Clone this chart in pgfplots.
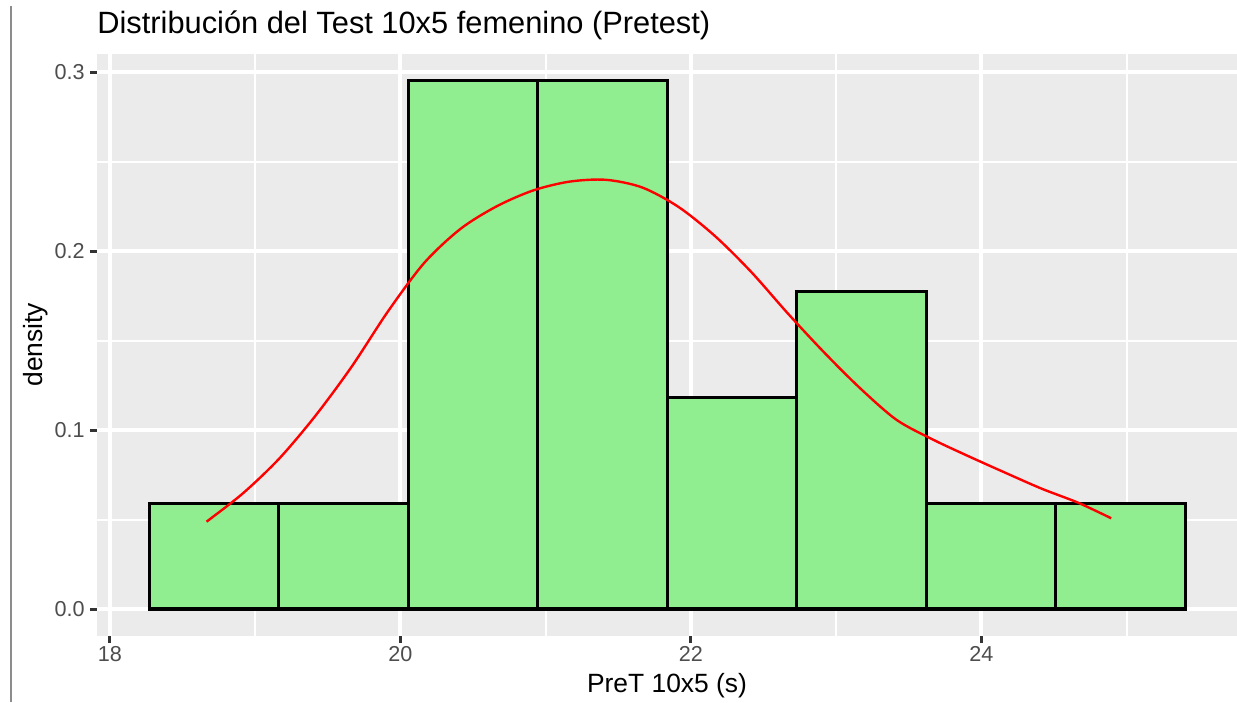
\documentclass[border=0pt]{standalone}
\usepackage{pgfplots}
\pgfplotsset{compat=1.18}
\usepackage{fontspec}
\setmainfont{Liberation Sans}
\definecolor{panelbg}{HTML}{EBEBEB}
\definecolor{barfill}{HTML}{90EE90}
\definecolor{tickcol}{HTML}{333333}
\definecolor{labcol}{HTML}{4D4D4D}
\definecolor{framecol}{HTML}{8C8C8C}

\begin{document}
\begin{tikzpicture}
\begin{axis}[
  scale only axis, width=570pt, height=290.75pt,
  xmin=17.912, xmax=25.760, ymin=-0.0148, ymax=0.3101,
  axis background/.style={fill=panelbg},
  axis x line*=bottom, axis y line*=left,
  axis line style={draw=none},
  xtick={18,20,22,24}, xticklabels={18,20,22,24},
  ytick={0,0.1,0.2,0.3}, yticklabels={0.0,0.1,0.2,0.3},
  minor xtick={19,21,23,25}, minor ytick={0.05,0.15,0.25},
  grid=both,
  major grid style={white, line width=2pt},
  minor grid style={white, line width=1pt},
  tick align=outside,
  major tick length=3.5pt, minor tick length=0pt,
  tick style={tickcol, line width=1.5pt},
  ticklabel style={font=\fontsize{10.8}{12}\selectfont, text=labcol},
  xticklabel style={anchor=north, inner sep=0pt, yshift=-1.75pt},
  yticklabel style={anchor=east, inner sep=0pt, xshift=-2.5pt},
  title={Distribución del Test 10x5 femenino (Pretest)},
  title style={at={(axis description cs:0,1)}, anchor=base west, inner sep=0pt, yshift=4pt, font=\fontsize{15.4}{18}\selectfont},
  xlabel={PreT 10x5 (s)},
  xlabel style={at={(axis description cs:0.5,0)}, anchor=base, inner sep=0pt, yshift=-28.25pt, font=\fontsize{13.2}{15}\selectfont},
  ylabel={density},
  ylabel style={at={(axis description cs:0,0.5)}, anchor=center, inner sep=0pt, yshift=30.5pt, font=\fontsize{13.2}{15}\selectfont},
  clip=false,
]
\addplot[ybar interval, fill=barfill, draw=black, line width=1.6pt] coordinates {
  (18.271,0.0591) (19.163,0.0591) (20.054,0.2953) (20.946,0.2953)
  (21.837,0.1181) (22.729,0.1772) (23.621,0.0591) (24.512,0.0591) (25.404,0.0591)
};
\addplot[red, line width=1.2pt, smooth] coordinates {
  (18.666,0.0488) (18.916,0.0646) (19.166,0.0840) (19.416,0.1080)
  (19.666,0.1355) (19.916,0.1664) (20.166,0.1935) (20.416,0.2125)
  (20.666,0.2251) (20.916,0.2339) (21.166,0.2388) (21.416,0.2398)
  (21.666,0.2355) (21.916,0.2246) (22.166,0.2084) (22.416,0.1883)
  (22.666,0.1653) (22.916,0.1435) (23.166,0.1233) (23.416,0.1057)
  (23.666,0.0947) (23.916,0.0852) (24.166,0.0761) (24.416,0.0672)
  (24.666,0.0594) (24.894,0.0507)
};
\coordinate (sw) at (rel axis cs:0,0);
\coordinate (ne) at (rel axis cs:1,1);
\end{axis}
\draw[framecol, line width=0.6pt] ([xshift=-43pt,yshift=-33.25pt]sw) -- ([xshift=-43pt,yshift=314.75pt]sw);
\pgfresetboundingbox
\useasboundingbox ([xshift=-48.5pt,yshift=-33.25pt]sw) rectangle ([yshift=27pt]ne);
\end{tikzpicture}
\end{document}
